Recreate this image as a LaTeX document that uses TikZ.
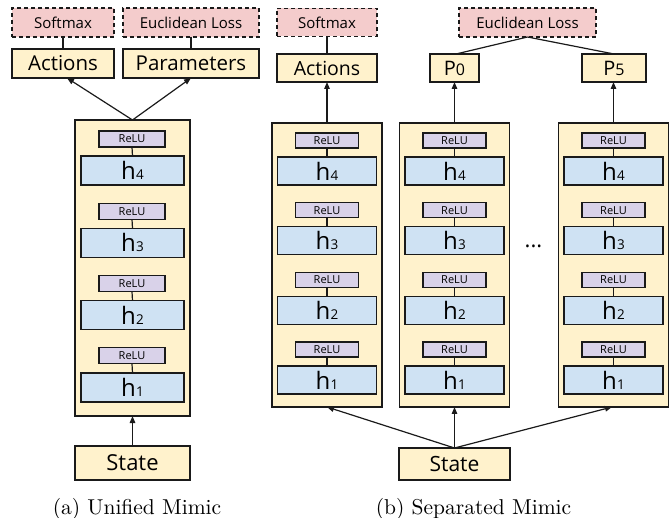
\documentclass[tikz,border=0pt]{standalone}
\usepackage{fontspec}
\newfontfamily\osans{Open Sans}
\newfontfamily\capfont{lmroman10-regular}[Extension=.otf]
\usetikzlibrary{arrows.meta}
\definecolor{yel}{HTML}{FFF2CC}
\definecolor{blu}{HTML}{CFE2F3}
\definecolor{pur}{HTML}{D9D2E9}
\definecolor{pnk}{HTML}{F4CCCC}
\definecolor{bord}{HTML}{1A1A1A}
\newcommand{\fs}[1]{\fontsize{#1}{#1}\selectfont}
\newcommand{\hlab}[2]{{\fs{24}h}\kern0.3pt{\fs{#1}#2}}
\begin{document}
\begin{tikzpicture}[x=1pt,y=-1pt,
  every node/.style={inner sep=0pt,outer sep=0pt,font=\osans},
  ybox/.style={draw=bord,line width=1.4pt,fill=yel},
  lossbox/.style={draw=bord,line width=1.3pt,fill=pnk,dash pattern=on 4pt off 3pt,font=\osans\fs{15}},
  relubox/.style={draw=bord,line width=1.2pt,fill=pur,font=\osans\fs{11}},
  hbox/.style={draw=bord,line width=1.4pt,fill=blu},
  link/.style={draw=bord,line width=1.2pt},
  arr/.style={draw=bord,line width=1.2pt,-{Triangle[length=7pt,width=5.5pt]}},
  captext/.style={font=\capfont\fs{21.5},anchor=base}]
\useasboundingbox (0,0) rectangle (672,518);
% ---------------- (a) Unified Mimic ----------------
\node[lossbox,minimum width=102,minimum height=29] (sma) at (63,22.5) {Softmax};
\node[lossbox,minimum width=136,minimum height=29] (ela) at (191,22.5) {Euclidean Loss};
\node[ybox,minimum width=102,minimum height=29,font=\osans\fs{20.5}] (acta) at (63,63.5) {Actions};
\node[ybox,minimum width=136,minimum height=29,font=\osans\fs{20.5}] (para) at (191,63.5) {Parameters};
\node[ybox,minimum width=115,minimum height=296] (cola) at (132.5,268) {};
\foreach \k in {1,2,3,4}{
  \pgfmathsetmacro{\tp}{131+(4-\k)*72.3}
  \node[relubox,minimum width=66,minimum height=16] (ra\k) at (132,\tp+8) {ReLU};
  \node[hbox,minimum width=103,minimum height=29] (ha\k) at (132.5,\tp+39.5) {\hlab{13.5}{\k}};
  \draw[link] (ra\k.south) -- (ha\k.north);
}
\node[ybox,minimum width=115,minimum height=34,font=\osans\fs{22}] (sta) at (132.5,463) {State};
\draw[link] (sma.south) -- (acta.north);
\draw[link] (ela.south) -- (para.north);
\draw[arr] (cola.north) -- ([xshift=4]acta.south);
\draw[arr] (cola.north) -- (para.south);
\draw[arr] (sta.north) -- (cola.south);
\node[captext] (capa) at (137,514) {(a) Unified Mimic};
% ---------------- (b) Separated Mimic ----------------
\node[lossbox,minimum width=100,minimum height=28] (smb) at (327,22.5) {Softmax};
\node[lossbox,minimum width=137,minimum height=29] (elb) at (527.5,22.5) {Euclidean Loss};
\node[ybox,minimum width=100,minimum height=28,font=\osans\fs{19.5}] (actb) at (327,68) {Actions};
\node[ybox,minimum width=49,minimum height=28] (p0) at (454.5,68) {{\fs{20}P}{\fs{16}0}};
\node[ybox,minimum width=64,minimum height=28] (p5) at (614,68) {{\fs{20}P}{\fs{16}5}};
\foreach \c/\x in {1/327,2/454.5,3/613.5}{
  \node[ybox,minimum width=110,minimum height=284] (colb\c) at (\x,265) {};
  \foreach \k in {1,2,3,4}{
    \pgfmathsetmacro{\tp}{133+(4-\k)*69.7}
    \node[relubox,minimum width=63,minimum height=15] (rb\c\k) at (\x,\tp+7.5) {ReLU};
    \node[hbox,minimum width=99,minimum height=28] (hb\c\k) at (\x,\tp+38) {\hlab{13.5}{\k}};
    \draw[link] (rb\c\k.south) -- (hb\c\k.north);
  }
}
\node[font=\osans\fs{22}] (dots) at (533.5,246) {...};
\node[ybox,minimum width=111,minimum height=32,font=\osans\fs{21}] (stb) at (454.5,464) {State};
\draw[link] (smb.south) -- (actb.north);
\draw[link] (elb.south) -- ([xshift=1.5]p0.north);
\draw[link] (elb.south) -- (p5.north);
\draw[arr] (colb1.north) -- (actb.south);
\draw[arr] (colb2.north) -- (p0.south);
\draw[arr] (colb3.north) -- (colb3.north |- p5.south);
\draw[arr] (stb.north) -- (colb1.south);
\draw[arr] (stb.north) -- (colb2.south);
\draw[arr] (stb.north) -- ([xshift=-1.5]colb3.south);
\node[captext] (capb) at (473.5,514) {(b) Separated Mimic};
\end{tikzpicture}
\end{document}
